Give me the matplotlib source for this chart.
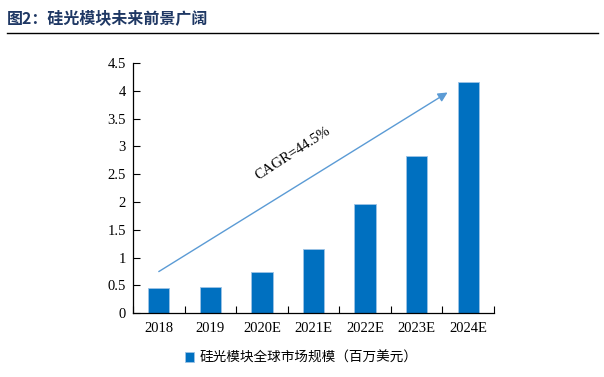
import matplotlib
matplotlib.use("Agg")
import matplotlib.pyplot as plt
import numpy as np

categories = ["2018", "2019", "2020E", "2021E", "2022E", "2023E", "2024E"]
values = [0.45, 0.48, 0.75, 1.15, 1.97, 2.83, 4.15]
yticks = [0, 0.5, 1, 1.5, 2, 2.5, 3, 3.5, 4, 4.5]
ytick_labels = ["0", "0.5", "1", "1.5", "2", "2.5", "3", "3.5", "4", "4.5"]
series_name = "硅光模块全球市场规模（百万美元）"
title = "图2：硅光模块未来前景广阔"
cagr_text = "CAGR=44.5%"

W, H = 604, 377
fig = plt.figure(figsize=(W / 100, H / 100), dpi=100)
ax = fig.add_axes([133 / W, 1 - 313.3 / H, (494 - 133) / W, (313.3 - 63) / H])

x = np.arange(len(categories))
bars = ax.bar(x, values, width=0.41, color="#0070C0", edgecolor="#9DC3E6", linewidth=0.6,
              label=series_name, zorder=2)

ax.set_xlim(-0.5, len(categories) - 0.5)
ax.set_ylim(0, 4.5)
ax.set_yticks(yticks)
ax.set_yticklabels(ytick_labels, family="Liberation Serif", fontsize=10.5)
ax.set_xticks(x)
ax.set_xticklabels(categories, family="Liberation Serif", fontsize=10.5)
ax.tick_params(axis="x", length=0, pad=6)
ax.set_xticks(np.arange(len(categories) + 1) - 0.5, minor=True)
ax.tick_params(axis="x", which="minor", direction="in", length=5, width=0.8)
ax.tick_params(axis="y", direction="in", length=5, width=0.8, pad=5)

for s in ["top", "right"]:
    ax.spines[s].set_visible(False)
for s in ["left", "bottom"]:
    ax.spines[s].set_linewidth(0.9)

# growth arrow
ax.annotate("", xy=(5.6, 3.97), xytext=(0.0, 0.75),
            arrowprops=dict(arrowstyle="-|>", color="#5B9BD5", lw=1.0,
                            mutation_scale=14, shrinkA=0, shrinkB=0), zorder=3)
ax.text(2.6, 2.87, cagr_text, rotation=33, ha="center", va="center",
        family="Liberation Serif", fontsize=10.5, rotation_mode="anchor")

# title and rule
fig.text(7 / W, 1 - 18.5 / H, title, family=["Noto Sans CJK SC", "DejaVu Sans"],
         fontsize=11.5, fontweight="bold", color="#1F3864", va="center", ha="left")
fig.add_artist(plt.Line2D([7 / W, 598 / W], [1 - 33 / H, 1 - 33 / H], color="black", lw=1.0))

# legend
leg = fig.legend(handles=[bars], labels=[series_name], loc="center",
                 bbox_to_anchor=(301 / W, 1 - 358 / H), frameon=False,
                 prop={"family": ["Noto Sans CJK SC", "DejaVu Sans"], "size": 9.8},
                 handlelength=0.7, handleheight=0.7, handletextpad=0.4)

fig.savefig("out.png", dpi=100)
